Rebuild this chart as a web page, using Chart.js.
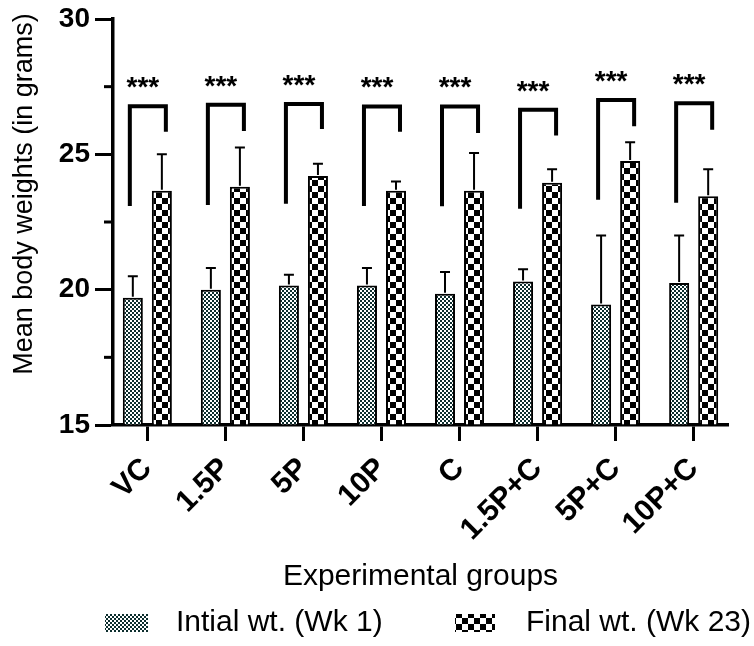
<!DOCTYPE html>
<html>
<head>
<meta charset="utf-8">
<script src="https://cdn.jsdelivr.net/npm/chart.js@4"></script>
<style>
  html, body { margin: 0; padding: 0; background: #fff; }
  canvas { display: block; }
</style>
</head>
<body>
<canvas id="weightsChart" width="754" height="646"></canvas>
<script>
const groups = ["VC", "1.5P", "5P", "10P", "C", "1.5P+C", "5P+C", "10P+C"];
const initialMean = [19.7, 20.0, 20.15, 20.15, 19.85, 20.3, 19.45, 20.25];
const initialErr = [0.8, 0.8, 0.4, 0.65, 0.8, 0.45, 2.55, 1.75];
const finalMean = [23.65, 23.8, 24.2, 23.65, 23.65, 23.95, 24.75, 23.45];
const finalErr = [1.35, 1.45, 0.45, 0.35, 1.4, 0.5, 0.7, 1.0];

// significance brackets (values on the y axis)
const bracketTop = [26.78, 26.83, 26.86, 26.77, 26.77, 26.65, 27.01, 26.89];
const bracketLeftEnd = [23.09, 23.13, 23.17, 23.09, 23.08, 22.99, 23.32, 23.21];
const bracketRightEnd = [25.83, 25.86, 25.94, 25.83, 25.79, 25.7, 26.04, 25.91];
const stars = ["***", "***", "***", "***", "***", "***", "***", "***"];

const yTicks = [15, 20, 25, 30];
const yMinorTicks = [17.5, 22.5, 27.5];
const seriesLabels = ["Intial wt. (Wk 1)", "Final wt. (Wk 23)"];

const FONT = 'Arial, "Liberation Sans", Helvetica, sans-serif';
Chart.defaults.font.family = FONT;
Chart.defaults.color = "#000";

function makePattern(size, dark) {
  const c = document.createElement("canvas");
  c.width = c.height = size * 2;
  const g = c.getContext("2d");
  g.fillStyle = "#fff";
  g.fillRect(0, 0, size * 2, size * 2);
  g.fillStyle = dark;
  g.fillRect(0, 0, size, size);
  g.fillRect(size, size, size, size);
  return g.createPattern(c, "repeat");
}

const finePattern = makePattern(2, "#0d2e2e");
const coarsePattern = makePattern(6, "#000");

const extras = {
  id: "extras",
  afterDatasetsDraw(chart) {
    const ctx = chart.ctx;
    const y = chart.scales.y;
    const initBars = chart.getDatasetMeta(0).data;
    const finalBars = chart.getDatasetMeta(1).data;
    ctx.save();
    ctx.strokeStyle = "#000";
    ctx.fillStyle = "#000";

    // error bars (upper only)
    ctx.lineWidth = 2;
    [[initBars, initialMean, initialErr], [finalBars, finalMean, finalErr]].forEach(([bars, means, errs]) => {
      bars.forEach((bar, i) => {
        const top = y.getPixelForValue(means[i] + errs[i]);
        ctx.beginPath();
        ctx.moveTo(bar.x, bar.y - 1);
        ctx.lineTo(bar.x, top);
        ctx.moveTo(bar.x - 5, top);
        ctx.lineTo(bar.x + 5, top);
        ctx.stroke();
      });
    });

    // brackets + stars
    ctx.lineWidth = 4;
    ctx.lineJoin = "miter";
    ctx.font = "bold 28px " + FONT;
    ctx.textAlign = "center";
    ctx.textBaseline = "alphabetic";
    groups.forEach((g, i) => {
      const xl = initBars[i].x - 3;
      const xr = finalBars[i].x + 4;
      const top = y.getPixelForValue(bracketTop[i]);
      ctx.beginPath();
      ctx.moveTo(xl, y.getPixelForValue(bracketLeftEnd[i]));
      ctx.lineTo(xl, top);
      ctx.lineTo(xr, top);
      ctx.lineTo(xr, y.getPixelForValue(bracketRightEnd[i]));
      ctx.stroke();
      ctx.fillText(stars[i], (xl + xr) / 2 - 5, top - 10);
    });
    ctx.restore();
  },
  afterDraw(chart) {
    const ctx = chart.ctx;
    const y = chart.scales.y;
    const area = chart.chartArea;
    ctx.save();
    // minor ticks on y axis
    ctx.strokeStyle = "#000";
    ctx.lineWidth = 3;
    yMinorTicks.forEach(v => {
      const py = y.getPixelForValue(v);
      ctx.beginPath();
      ctx.moveTo(area.left - 9, py);
      ctx.lineTo(area.left, py);
      ctx.stroke();
    });

    // y axis title
    ctx.fillStyle = "#000";
    ctx.font = "27px " + FONT;
    ctx.textAlign = "center";
    ctx.textBaseline = "middle";
    ctx.translate(25, 194);
    ctx.rotate(-Math.PI / 2);
    ctx.fillText("Mean body weights (in grams)", 0, 0);
    ctx.setTransform(1, 0, 0, 1, 0, 0);

    // legend
    const items = [
      { fill: finePattern, x: 105, w: 43 },
      { fill: coarsePattern, x: 455, w: 40 },
    ];
    ctx.font = "30px " + FONT;
    ctx.textAlign = "left";
    items.forEach((it, i) => {
      ctx.fillStyle = it.fill;
      ctx.fillRect(it.x, 614, it.w, 18);
      ctx.fillStyle = "#000";
      ctx.fillText(seriesLabels[i], i === 0 ? 176 : 526, 623);
    });
    ctx.restore();
  }
};

new Chart(document.getElementById("weightsChart"), {
  type: "bar",
  data: {
    datasets: [
      {
        label: seriesLabels[0],
        data: initialMean.map((v, i) => ({ x: i, y: v })),
        backgroundColor: finePattern,
        borderColor: "#000",
        borderWidth: 2,
        base: 15,
      },
      {
        label: seriesLabels[1],
        data: finalMean.map((v, i) => ({ x: i, y: v })),
        backgroundColor: coarsePattern,
        borderColor: "#000",
        borderWidth: 2,
        base: 15,
      }
    ]
  },
  plugins: [extras],
  options: {
    responsive: false,
    animation: false,
    events: [],
    devicePixelRatio: 1,
    categoryPercentage: 0.744,
    barPercentage: 0.69,
    layout: { padding: { top: 15, right: 26, bottom: 46, left: 0 } },
    plugins: {
      legend: { display: false },
      tooltip: { enabled: false },
    },
    scales: {
      x: {
        type: "linear",
        min: -0.44,
        max: 7.44,
        offset: false,
        grid: { display: true, offset: false, drawOnChartArea: false, color: "#000", tickLength: 16, tickWidth: 3 },
        border: { display: true, color: "#000", width: 3.5 },
        ticks: {
          stepSize: 1,
          includeBounds: false,
          autoSkip: false,
          minRotation: 45,
          maxRotation: 45,
          padding: 10,
          font: { size: 30, weight: "bold" },
          callback: v => (Number.isInteger(v) ? groups[v] : ""),
        },
        title: {
          display: true,
          text: "Experimental groups",
          font: { size: 30 },
          padding: { top: 0, bottom: 5 },
        },
        afterFit: s => { s.height = 175; },
      },
      y: {
        min: 15,
        max: 30,
        grid: { display: true, drawOnChartArea: false, color: "#000", tickLength: 18, tickWidth: 3 },
        border: { display: true, color: "#000", width: 3.5 },
        ticks: {
          stepSize: 5,
          padding: 5,
          font: { size: 28, weight: "bold", lineHeight: 1 },
          callback: v => (yTicks.includes(v) ? v : ""),
        },
        afterFit: s => { s.width = 113; },
      }
    }
  }
});
</script>
</body>
</html>
